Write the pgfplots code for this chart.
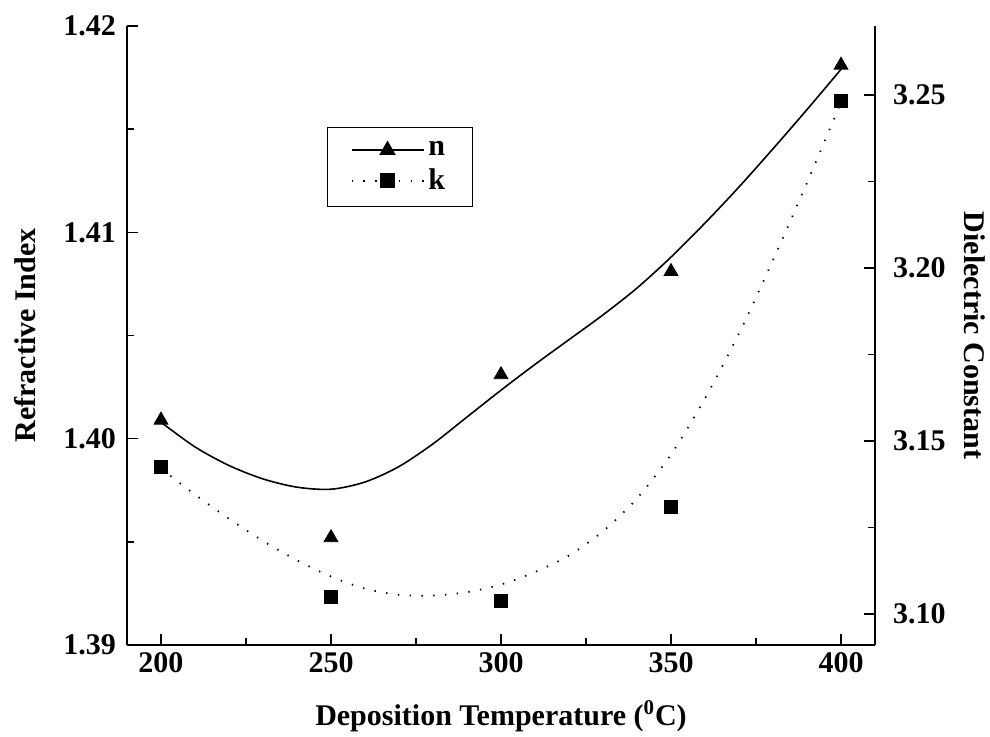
\documentclass[border=0pt]{standalone}
\usepackage{fontspec}
\setmainfont{Liberation Serif}
\usepackage{pgfplots}
\pgfplotsset{compat=1.18}

\newcommand{\chfont}{\fontsize{15}{18}\selectfont\bfseries}

\pgfplotsset{
  common/.style={
    scale only axis,
    width=374pt, height=309.5pt,
    xmin=190, xmax=410,
    tick align=inside,
    major tick length=5.5pt,
    minor tick length=3.5pt,
    every tick/.style={black, line width=0.8pt},
    axis line style={-, line width=1pt},
    tick label style={font=\chfont},
    /pgf/number format/assume math mode=true,
  },
}

\begin{document}
\begin{tikzpicture}
% left axis: refractive index
\begin{axis}[
  common,
  axis x line*=bottom,
  axis y line*=left,
  ymin=1.39, ymax=1.42,
  xtick={200,250,300,350,400},
  minor x tick num=1,
  ytick={1.39,1.40,1.41,1.42},
  minor y tick num=1,
  yticklabel style={/pgf/number format/fixed, /pgf/number format/fixed zerofill,
    /pgf/number format/precision=2, xshift=-2pt},
  xlabel={Deposition Temperature (\textsuperscript{0}C)},
  ylabel={Refractive Index},
  every axis x label/.style={at={(axis description cs:0.5,-0.1147)},anchor=center,font=\chfont},
  every axis y label/.style={at={(axis description cs:-0.1364,0.5)},rotate=90,anchor=center,font=\chfont},
]
\addplot[black, line width=0.8pt, smooth] coordinates {
  (200,1.40080) (210,1.39960) (220,1.39870) (230,1.39805) (240,1.39765)
  (250,1.39755) (260,1.39790) (270,1.39865) (280,1.39975) (290,1.40105)
  (300,1.40235) (310,1.40360) (320,1.40480) (330,1.40600) (340,1.40730)
  (350,1.40880) (360,1.41045) (370,1.41220) (380,1.41405) (390,1.41595)
  (400,1.41790)
};
\addplot[black, only marks, mark=triangle*, mark size=4pt] coordinates {
  (200,1.4009) (250,1.3952) (300,1.4031) (350,1.4081) (400,1.4181)
};
\end{axis}
% right axis: dielectric constant
\begin{axis}[
  common,
  hide x axis,
  axis y line*=right,
  ymin=3.091, ymax=3.270,
  ytick={3.10,3.15,3.20,3.25},
  minor y tick num=1,
  yticklabel style={/pgf/number format/fixed, /pgf/number format/fixed zerofill,
    /pgf/number format/precision=2, xshift=5.5pt},
  ylabel={Dielectric Constant},
  every axis y label/.style={at={(axis description cs:1.1337,0.5)},rotate=-90,anchor=center,font=\chfont},
  legend style={at={(axis description cs:0.2674,0.8368)}, anchor=north west,
    draw=black, line width=0.6pt, font=\chfont,
    inner xsep=11.5pt, inner ysep=5pt, row sep=1pt},
  legend cell align=left,
  legend image code/.code={\draw[mark repeat=2,mark phase=2,#1]
    plot coordinates {(0pt,0pt) (18pt,0pt) (36pt,0pt)};},
]
\addplot[black, line width=0.9pt, dash pattern=on 0.7pt off 5.2pt, smooth, forget plot] coordinates {
  (200,3.1420) (210,3.1345) (220,3.1275) (230,3.1211) (240,3.1155)
  (250,3.1108) (260,3.1073) (270,3.1055) (280,3.1053) (290,3.1063)
  (300,3.1085) (310,3.1121) (320,3.1169) (330,3.1239) (340,3.1334)
  (350,3.1461) (360,3.1623) (370,3.1811) (380,3.2023) (390,3.2247)
  (400,3.2479)
};
\addplot[black, only marks, mark=square*, mark size=3.2pt, forget plot] coordinates {
  (200,3.1425) (250,3.1049) (300,3.1038) (350,3.1309) (400,3.2483)
};
\addlegendimage{black, line width=0.8pt, mark=triangle*, mark size=4pt}
\addlegendentry{n}
\addlegendimage{black, line width=0.9pt, dash pattern=on 0.7pt off 5.2pt, mark=square*, mark size=3.2pt, mark options={solid}}
\addlegendentry{k}
\end{axis}
% page frame with the reference's margins
\pgfresetboundingbox
\path[use as bounding box] (-63.5pt,-45.5pt) rectangle (431.5pt,322.5pt);
\end{tikzpicture}
\end{document}
